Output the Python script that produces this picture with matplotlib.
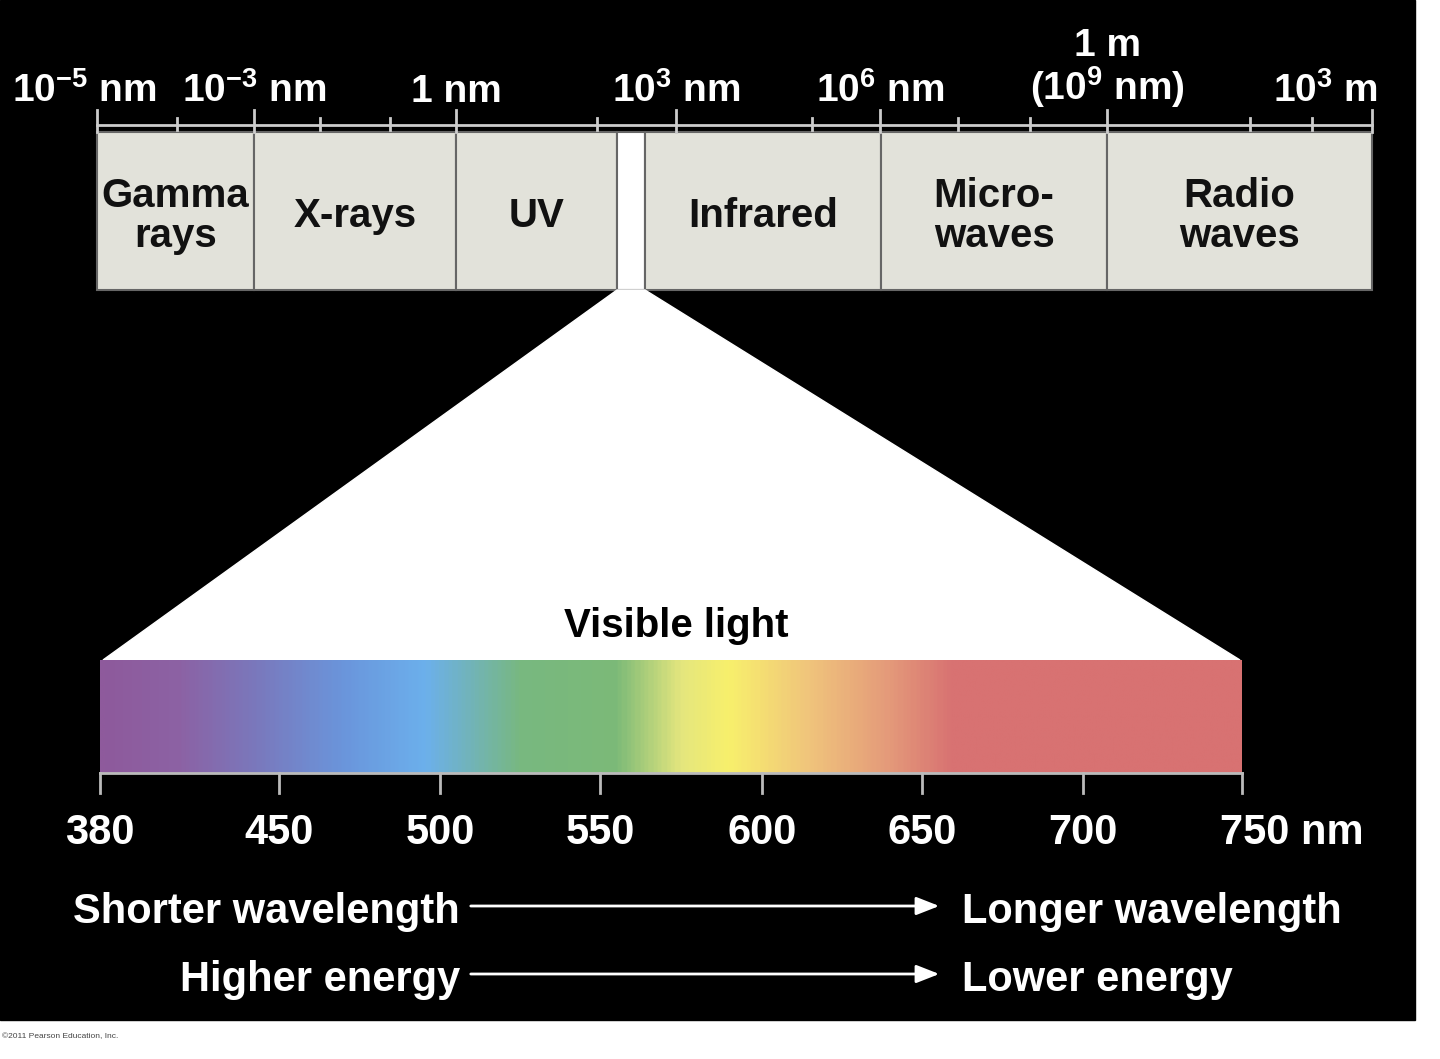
import matplotlib
matplotlib.use("Agg")
import matplotlib.pyplot as plt
import numpy as np
from matplotlib.colors import LinearSegmentedColormap

plt.rcParams['font.family'] = ['Liberation Sans', 'DejaVu Sans']
plt.rcParams['mathtext.fontset'] = 'custom'
plt.rcParams['mathtext.rm'] = 'Liberation Sans:bold'
plt.rcParams['mathtext.it'] = 'Liberation Sans:bold'
plt.rcParams['mathtext.bf'] = 'Liberation Sans:bold'

# top scale: decade exponents (nm) and their place along the strip
top_exp = [-5, -3, 0, 3, 6, 9, 12]
top_x = [97, 254, 456, 676, 880, 1107, 1372]
top_labels = [r"10$^{-5}$ nm", r"10$^{-3}$ nm", "1 nm", r"10$^{3}$ nm",
              r"10$^{6}$ nm", "1 m\n" + r"(10$^{9}$ nm)", r"10$^{3}$ m"]
minor_x = [177, 320, 390, 597, 812, 958, 1030, 1250, 1312]

bands = ["Gamma\nrays", "X-rays", "UV", "", "Infrared", "Micro-\nwaves", "Radio\nwaves"]
band_edges = [97, 254, 456, 617, 645, 881, 1107, 1372]

# visible scale
vis_nm = [380, 450, 500, 550, 600, 650, 700, 750]
vis_x = [100, 279, 440, 600, 762, 922, 1083, 1242]
stop_nm = [380, 410, 440, 470, 495, 525, 555, 575, 590, 615, 640, 660, 750]
stop_col = ["#8e5a9c", "#8c62a4", "#7a78bc", "#6a96dc", "#6cb0ec", "#78b880",
            "#7cba78", "#e4e67e", "#f8f06c", "#f0c47c", "#e49a7a", "#d87272", "#d87272"]

fig = plt.figure(figsize=(14.4, 10.59), dpi=100)
fig.patch.set_facecolor("white")
ax = fig.add_axes([0, 0, 1, 1])
ax.set_xlim(0, 1440)
ax.set_ylim(1059, 0)
ax.axis("off")
ax.add_patch(plt.Rectangle((0, 0), 1415, 1020, color="black", zorder=0))

wt = dict(color="white", fontweight="bold", fontsize=30)
# top strip
ax.plot([97, 1372], [125, 125], color="#cccccc", lw=2)
for x in top_x:
    ax.plot([x, x], [110, 132], color="#cccccc", lw=2)
for x in minor_x:
    ax.plot([x, x], [118, 130], color="#cccccc", lw=2)
for i, (x, lab) in enumerate(zip(top_x, top_labels)):
    ha = "center"
    if i == 0:
        x, ha = 12, "left"
    elif i == len(top_x) - 1:
        x, ha = 1378, "right"
    ax.text(x, 110, lab, ha=ha, va="bottom", multialignment="center",
            linespacing=1.0, color="white", fontweight="bold", fontsize=28)
for i, name in enumerate(bands):
    x0, x1 = band_edges[i], band_edges[i + 1]
    fc = "white" if name == "" else "#e2e2da"
    ax.add_patch(plt.Rectangle((x0, 132), x1 - x0, 158, facecolor=fc,
                               edgecolor="#666666", lw=1.5))
    ax.text((x0 + x1) / 2, 216, name, ha="center", va="center", color="#111111",
            fontweight="bold", fontsize=29, linespacing=1.05)

# wedge
ax.fill([617, 645, 1240, 103], [290, 290, 660, 660], color="white", zorder=1)
ax.text(676, 645, "Visible light", ha="center", va="bottom", color="black",
        fontweight="bold", fontsize=29, zorder=2)

# spectrum
cmap = LinearSegmentedColormap.from_list(
    "vis", list(zip((np.interp(stop_nm, vis_nm, vis_x) - 100) / 1142, stop_col)))
ax.imshow(np.linspace(0, 1, 600)[None, :], cmap=cmap, aspect="auto",
          extent=(100, 1242, 773, 660), zorder=2)
ax.plot([100, 1242], [773, 773], color="#bbbbbb", lw=2, zorder=3)
for nm, x in zip(vis_nm, vis_x):
    ax.plot([x, x], [773, 793], color="#bbbbbb", lw=2, zorder=3)
    lab = "750 nm" if nm == 750 else str(nm)
    ax.text(x if nm != 750 else 1220, 833, lab, ha="center" if nm != 750 else "left",
            va="center", **wt)

# arrows
for y, left, right in [(912, "Shorter wavelength", "Longer wavelength"),
                       (980, "Higher energy", "Lower energy")]:
    ax.text(460, y, left, ha="right", va="center", **wt)
    ax.text(962, y, right, ha="left", va="center", **wt)
    ax.annotate("", xy=(942, y - 6), xytext=(468, y - 6),
                arrowprops=dict(arrowstyle="-|>,head_length=1.4,head_width=0.55",
                                color="white", lw=2))

ax.text(2, 1037, "©2011 Pearson Education, Inc.", fontsize=6, color="#444444", va="center")

fig.savefig("out.png", dpi=100, facecolor="white")
